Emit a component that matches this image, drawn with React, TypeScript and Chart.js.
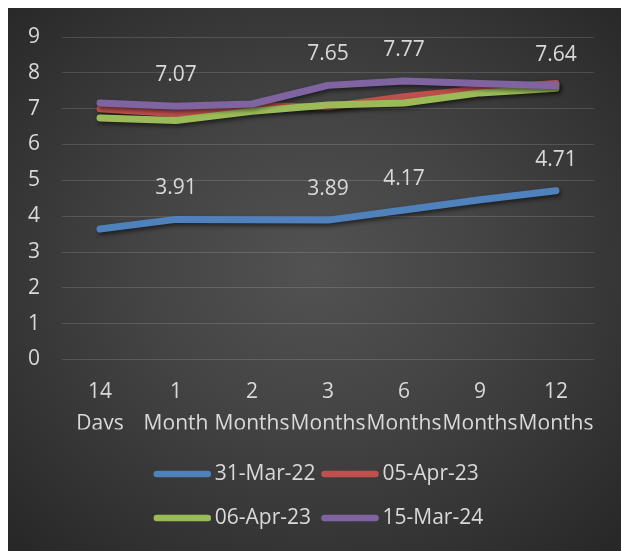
import React, { useEffect, useRef } from 'react';
import { Chart, registerables } from 'chart.js';

Chart.register(...registerables);

// Tenors along the x axis (two-line labels)
const categories: string[][] = [
  ['14', 'Days'],
  ['1', 'Month'],
  ['2', 'Months'],
  ['3', 'Months'],
  ['6', 'Months'],
  ['9', 'Months'],
  ['12', 'Months'],
];

// Curve dates
const seriesNames = ['31-Mar-22', '05-Apr-23', '06-Apr-23', '15-Mar-24'];

// Yields (%) per tenor
const mar22 = [3.64, 3.91, 3.9, 3.89, 4.17, 4.46, 4.71];
const apr05 = [7.0, 6.86, 7.08, 7.05, 7.33, 7.55, 7.7];
const apr06 = [6.74, 6.67, 6.93, 7.1, 7.16, 7.44, 7.57];
const mar24 = [7.16, 7.07, 7.13, 7.65, 7.77, 7.7, 7.64];

const seriesValues = [mar22, apr05, apr06, mar24];
const seriesColors = ['#4f81bd', '#c0504d', '#9bbb59', '#8064a2'];

// Value labels are shown for these series at these tenors
const labelledSeries = [0, 3];
const labelledIndices = [1, 3, 4, 6];

// y axis range
const yMin = 0;
const yMax = 9;
const yStep = 1;

const FONT = '"Open Sans", "Noto Sans", sans-serif';
const FONT_SIZE = 21;
const TEXT = '#d9d9d9';

const lineShadow = {
  id: 'lineShadow',
  beforeDatasetDraw(chart: any) {
    const ctx = chart.ctx;
    ctx.save();
    ctx.shadowColor = 'rgba(0,0,0,0.55)';
    ctx.shadowBlur = 4;
    ctx.shadowOffsetX = 1.5;
    ctx.shadowOffsetY = 2.5;
  },
  afterDatasetDraw(chart: any) {
    chart.ctx.restore();
  },
};

const valueLabels = {
  id: 'valueLabels',
  afterDatasetsDraw(chart: any) {
    const ctx = chart.ctx;
    ctx.save();
    ctx.font = `${FONT_SIZE}px ${FONT}`;
    ctx.fillStyle = TEXT;
    ctx.textAlign = 'center';
    ctx.textBaseline = 'middle';
    labelledSeries.forEach((di) => {
      const meta = chart.getDatasetMeta(di);
      const values = chart.data.datasets[di].data as number[];
      labelledIndices.forEach((i) => {
        const pt = meta.data[i];
        if (!pt) return;
        ctx.fillText(values[i].toFixed(2), pt.x, pt.y - 31);
      });
    });
    ctx.restore();
  },
};

const lineLegend = {
  id: 'lineLegend',
  afterDraw(chart: any) {
    const ctx = chart.ctx;
    const ds = chart.data.datasets;
    const lineW = 57;
    const gap = 4;
    const colGap = 6;
    const rowYs = [466, 510];
    ctx.save();
    ctx.font = `${FONT_SIZE}px ${FONT}`;
    const maxText = Math.max(...ds.map((d: any) => ctx.measureText(d.label).width));
    const colW = lineW + gap + maxText + colGap;
    const total = colW * 2 - colGap;
    const startX = (chart.width - total) / 2 + 4;
    ds.forEach((d: any, i: number) => {
      const col = i % 2;
      const row = Math.floor(i / 2);
      const x = startX + col * colW;
      const y = rowYs[row];
      ctx.strokeStyle = d.borderColor;
      ctx.lineWidth = 6.5;
      ctx.lineCap = 'round';
      ctx.beginPath();
      ctx.moveTo(x + 3, y);
      ctx.lineTo(x + lineW - 3, y);
      ctx.stroke();
      ctx.fillStyle = TEXT;
      ctx.textAlign = 'left';
      ctx.textBaseline = 'middle';
      ctx.fillText(d.label, x + lineW + gap, y);
    });
    ctx.restore();
  },
};

export default function App() {
  const ref = useRef<HTMLCanvasElement>(null);

  useEffect(() => {
    const canvas = ref.current;
    if (!canvas) return;
    const chart = new Chart(canvas, {
      type: 'line',
      data: {
        labels: categories,
        datasets: seriesNames.map((name, i) => ({
          label: name,
          data: seriesValues[i],
          borderColor: seriesColors[i],
          backgroundColor: seriesColors[i],
          borderWidth: 7,
          borderCapStyle: 'round',
          borderJoinStyle: 'round',
          pointRadius: 0,
          tension: 0,
          order: seriesNames.length - i,
        })),
      },
      options: {
        responsive: false,
        animation: false,
        layout: { padding: { top: 29, right: 27, bottom: 121.5, left: 20 } },
        plugins: {
          legend: { display: false },
          tooltip: { enabled: false },
        },
        scales: {
          x: {
            offset: true,
            grid: { display: false, drawTicks: false },
            border: { display: false },
            ticks: {
              color: TEXT,
              font: { family: FONT, size: FONT_SIZE, lineHeight: 1.5 },
              padding: 17,
              autoSkip: false,
              maxRotation: 0,
              minRotation: 0,
            },
            afterFit(scale: any) {
              scale.height = 70;
            },
          },
          y: {
            min: yMin,
            max: yMax,
            grid: { color: 'rgba(255,255,255,0.14)', lineWidth: 1, drawTicks: false },
            border: { display: false },
            ticks: {
              stepSize: yStep,
              color: TEXT,
              font: { family: FONT, size: FONT_SIZE },
              padding: 0,
              crossAlign: 'far',
            },
            afterFit(scale: any) {
              scale.width = 34;
            },
          },
        },
      },
      plugins: [lineShadow, valueLabels, lineLegend],
    } as any);
    return () => chart.destroy();
  }, []);

  return (
    <div
      style={{
        position: 'fixed',
        left: 8,
        top: 8,
        width: 613,
        height: 543,
        background:
          'radial-gradient(ellipse 70% 70% at 50% 48%, #525252 0%, #444444 40%, #343434 75%, #282828 100%)',
      }}
    >
      <canvas ref={ref} width={613} height={543} style={{ display: 'block' }} />
    </div>
  );
}
